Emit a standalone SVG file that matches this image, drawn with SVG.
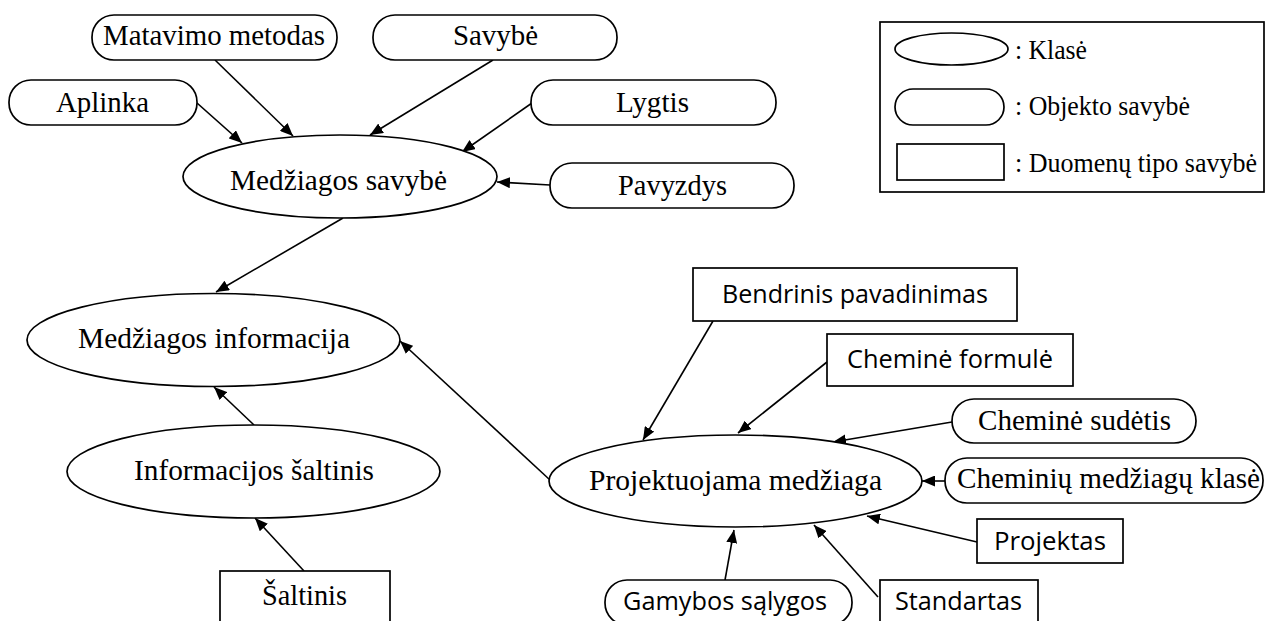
<svg xmlns="http://www.w3.org/2000/svg" width="1270" height="621" viewBox="0 0 1270 621">
  <style>
    .shape { fill: #ffffff; stroke: #000000; stroke-width: 1.7; }
    .serif { font-family: "Liberation Serif", "Times New Roman", serif; font-size: 29px; fill: #000000; text-anchor: middle; }
    .sans { font-family: "Open Sans", "Noto Sans", "Liberation Sans", sans-serif; font-size: 26px; fill: #000000; text-anchor: middle; }
    .legend { font-family: "Liberation Serif", "Times New Roman", serif; font-size: 27px; fill: #000000; }
    .edge { stroke: #000000; stroke-width: 1.6; fill: none; marker-end: url(#arrow); }
  </style>
  <defs>
    <marker id="arrow" markerUnits="userSpaceOnUse" markerWidth="13" markerHeight="11" refX="13" refY="5.5" orient="auto">
      <path d="M0,0 L13,5.5 L0,11 z" fill="#000000"/>
    </marker>
  </defs>

  <rect width="1270" height="621" fill="#ffffff"/>

  <!-- connectors -->
  <g id="edges">
    <line class="edge" x1="197" y1="103" x2="242" y2="143"/>
    <line class="edge" x1="215" y1="60" x2="293" y2="136"/>
    <line class="edge" x1="493" y1="60" x2="370" y2="135"/>
    <line class="edge" x1="532" y1="103" x2="462" y2="152"/>
    <line class="edge" x1="550" y1="185" x2="497" y2="182"/>
    <line class="edge" x1="343" y1="218" x2="216" y2="292"/>
    <line class="edge" x1="254" y1="425" x2="214" y2="387"/>
    <line class="edge" x1="304" y1="571" x2="255" y2="518"/>
    <line class="edge" x1="550" y1="480" x2="400" y2="341"/>
    <line class="edge" x1="713" y1="321" x2="643" y2="440"/>
    <line class="edge" x1="827" y1="362" x2="738" y2="433"/>
    <line class="edge" x1="952" y1="422" x2="833" y2="442"/>
    <line class="edge" x1="945" y1="481" x2="922" y2="481"/>
    <line class="edge" x1="977" y1="542" x2="867" y2="516"/>
    <line class="edge" x1="878" y1="597" x2="814" y2="525"/>
    <line class="edge" x1="725" y1="580" x2="734" y2="530"/>
  </g>

  <!-- object properties (rounded) -->
  <g id="matavimo-metodas">
    <rect class="shape" x="92" y="15" width="245" height="45" rx="22" ry="22"/>
    <text class="serif" x="214" y="45" textLength="222" lengthAdjust="spacingAndGlyphs">Matavimo metodas</text>
  </g>
  <g id="savybe">
    <rect class="shape" x="373" y="15" width="244" height="45" rx="22" ry="22"/>
    <text class="serif" x="495.5" y="45" textLength="85" lengthAdjust="spacingAndGlyphs">Savybė</text>
  </g>
  <g id="aplinka">
    <rect class="shape" x="9" y="80" width="188" height="45" rx="22" ry="22"/>
    <text class="serif" x="102.5" y="112" textLength="93" lengthAdjust="spacingAndGlyphs">Aplinka</text>
  </g>
  <g id="lygtis">
    <rect class="shape" x="531" y="80" width="245" height="45" rx="22" ry="22"/>
    <text class="serif" x="652.5" y="112" textLength="73" lengthAdjust="spacingAndGlyphs">Lygtis</text>
  </g>
  <g id="pavyzdys">
    <rect class="shape" x="550" y="163" width="244" height="45" rx="22" ry="22"/>
    <text class="serif" x="672.5" y="195" textLength="109" lengthAdjust="spacingAndGlyphs">Pavyzdys</text>
  </g>

  <!-- classes -->
  <g id="medziagos-savybe">
    <ellipse class="shape" cx="340" cy="176.5" rx="157" ry="41.5"/>
    <text class="serif" x="338.5" y="190" textLength="217" lengthAdjust="spacingAndGlyphs">Medžiagos savybė</text>
  </g>
  <g id="medziagos-informacija">
    <ellipse class="shape" cx="213.5" cy="340" rx="186.5" ry="46.5"/>
    <text class="serif" x="214" y="348" textLength="272" lengthAdjust="spacingAndGlyphs">Medžiagos informacija</text>
  </g>
  <g id="informacijos-saltinis">
    <ellipse class="shape" cx="253.5" cy="471.5" rx="186.5" ry="46.5"/>
    <text class="serif" x="254" y="480" textLength="240" lengthAdjust="spacingAndGlyphs">Informacijos šaltinis</text>
  </g>
  <g id="projektuojama-medziaga">
    <ellipse class="shape" cx="735.5" cy="481" rx="186.5" ry="46"/>
    <text class="serif" x="735.5" y="490" textLength="293" lengthAdjust="spacingAndGlyphs">Projektuojama medžiaga</text>
  </g>

  <!-- data properties and remaining object properties -->
  <g id="saltinis">
    <rect class="shape" x="220" y="571" width="170" height="60"/>
    <text class="serif" x="304.5" y="605" textLength="85" lengthAdjust="spacingAndGlyphs">Šaltinis</text>
  </g>
  <g id="bendrinis-pavadinimas">
    <rect class="shape" x="693" y="268" width="324" height="53"/>
    <text class="sans" x="855" y="303" textLength="266" lengthAdjust="spacingAndGlyphs">Bendrinis pavadinimas</text>
  </g>
  <g id="chemine-formule">
    <rect class="shape" x="827" y="334" width="246" height="52"/>
    <text class="sans" x="950" y="368" textLength="206" lengthAdjust="spacingAndGlyphs">Cheminė formulė</text>
  </g>
  <g id="chemine-sudetis">
    <rect class="shape" x="952" y="399" width="244" height="44" rx="22" ry="22"/>
    <text class="serif" x="1074.5" y="430" textLength="193" lengthAdjust="spacingAndGlyphs">Cheminė sudėtis</text>
  </g>
  <g id="cheminiu-medziagu-klase">
    <rect class="shape" x="945" y="458" width="318" height="45" rx="22" ry="22"/>
    <text class="serif" x="1108.5" y="488" textLength="303" lengthAdjust="spacingAndGlyphs">Cheminių medžiagų klasė</text>
  </g>
  <g id="projektas">
    <rect class="shape" x="977" y="519" width="146" height="44"/>
    <text class="sans" x="1050" y="550" textLength="112" lengthAdjust="spacingAndGlyphs">Projektas</text>
  </g>
  <g id="gamybos-salygos">
    <rect class="shape" x="605" y="580" width="247" height="45" rx="22" ry="22"/>
    <text class="sans" x="725" y="610" textLength="204" lengthAdjust="spacingAndGlyphs">Gamybos sąlygos</text>
  </g>
  <g id="standartas">
    <rect class="shape" x="880" y="580" width="158" height="50"/>
    <text class="sans" x="958.5" y="610" textLength="127" lengthAdjust="spacingAndGlyphs">Standartas</text>
  </g>

  <!-- legend -->
  <g id="legend">
    <rect class="shape" x="880" y="22" width="384" height="170"/>
    <ellipse class="shape" cx="951.5" cy="49" rx="56.5" ry="16"/>
    <text class="legend" x="1015" y="59" textLength="72" lengthAdjust="spacingAndGlyphs">: Klasė</text>
    <rect class="shape" x="895" y="89" width="109" height="36" rx="18" ry="18"/>
    <text class="legend" x="1015" y="115" textLength="175" lengthAdjust="spacingAndGlyphs">: Objekto savybė</text>
    <rect class="shape" x="897" y="144" width="107" height="36"/>
    <text class="legend" x="1015" y="172" textLength="242" lengthAdjust="spacingAndGlyphs">: Duomenų tipo savybė</text>
  </g>
</svg>
